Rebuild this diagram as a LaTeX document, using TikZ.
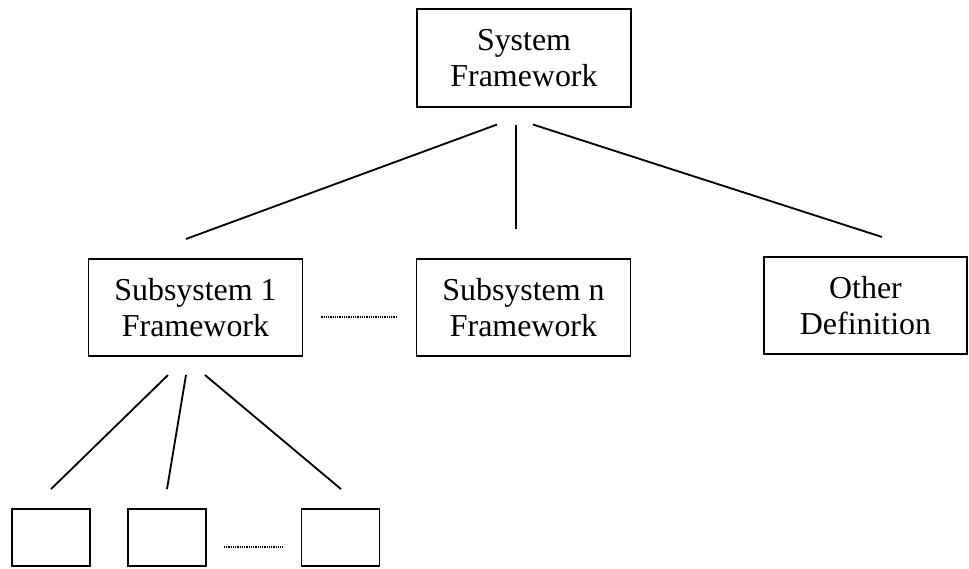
\documentclass[tikz,border=0pt]{standalone}
\usepackage{fontspec}
\setmainfont{Liberation Serif}
\usetikzlibrary{calc}
\def\bignode{\node[draw=black, line width=1.3pt, align=center, inner sep=0pt, minimum width=5.35cm, minimum height=2.43cm, font=\fontsize{22.7}{26}\selectfont]}
\def\leafnode{\node[draw=black, line width=1.3pt, inner sep=0pt, minimum width=1.95cm, minimum height=1.425cm]}
\def\drawlink{\draw[line width=1.3pt]}
\def\drawdots{\draw[line width=0.9pt, dash pattern=on 0.8pt off 0.8pt]}

\begin{document}
\begin{tikzpicture}[x=0.025cm,y=-0.025cm]
\useasboundingbox (0,0) rectangle (969,568);
\bignode (top) at (524,58) {System\\Framework};
\bignode (sub1) at (195.5,307.5) {Subsystem 1\\Framework};
\bignode (subn) at (523.5,307.5) {Subsystem n\\Framework};
\bignode (other) [minimum width=5.08cm] at (865.5,305.5) {Other\\Definition};
\leafnode (leaf1) at (51,537.5) {};
\leafnode (leaf2) at (167,537.5) {};
\leafnode (leaf3) at (340.5,537.5) {};
\drawlink ($(top.south)+(-27,17)$) -- ($(sub1.north)+(-9.5,-19)$);
\drawlink ($(top.south)+(-8,17)$) -- ($(subn.north)+(-7.5,-29)$);
\drawlink ($(top.south)+(9,17)$) -- ($(other.north)+(16.5,-19)$);
\drawlink ($(sub1.south)+(-27.5,18)$) -- ($(leaf1.north)+(0,-19)$);
\drawlink ($(sub1.south)+(-9.5,18)$) -- ($(leaf2.north)+(0,-19)$);
\drawlink ($(sub1.south)+(9.5,18)$) -- ($(leaf3.north)+(0.5,-19)$);
\drawdots ($(sub1.east)+(18,9.5)$) -- ($(subn.west)+(-18,9.5)$);
\drawdots ($(leaf2.east)+(17,9.5)$) -- ($(leaf3.west)+(-18,9.5)$);
\end{tikzpicture}
\end{document}
